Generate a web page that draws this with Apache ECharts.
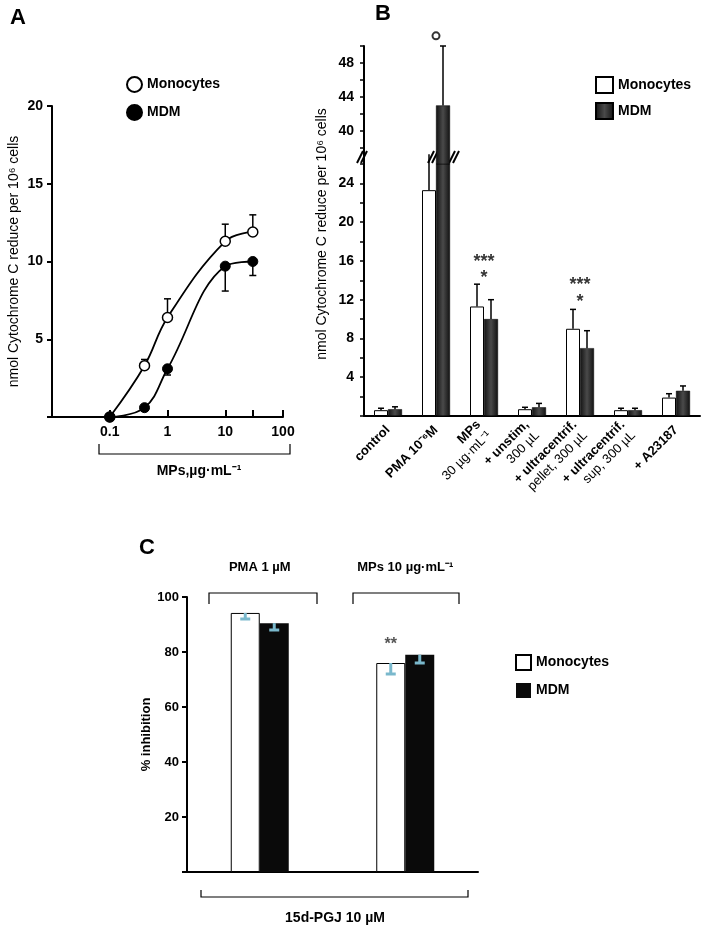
<!DOCTYPE html>
<html>
<head>
<meta charset="utf-8">
<script src="https://cdn.jsdelivr.net/npm/echarts@6/dist/echarts.min.js"></script>
<style>
  html, body { margin: 0; padding: 0; background: #fff; }
  #main { width: 709px; height: 934px; }
</style>
</head>
<body>
<div id="main"></div>
<script>
// ---- panel A: dose response ----
var doseA = [0.1, 0.4, 1, 10, 30];
var monoA = [0, 3.3, 6.4, 11.3, 11.9];
var monoAErr = [0, 3.7, 7.6, 12.4, 13.0];   // whisker end (up)
var mdmA = [0, 0.6, 3.1, 9.7, 10.0];
var mdmAErr = [0, 0.6, 2.7, 8.1, 9.1];      // whisker end (down)
var ticksA = [0.1, 1, 10, 30, 100];
var labelsA = [0.1, 1, 10, 100];

// ---- panel B: stimuli ----
var catsB = ['control', 'PMA 10⁻⁶M', 'MPs', '+ unstim,', '+ ultracentrif. pellet', '+ ultracentrif. sup', '+ A23187'];
var labelTopB = ['control', 'PMA 10⁻⁶M', 'MPs', '+ unstim,', '+ ultracentrif.', '+ ultracentrif.', '+ A23187'];
var labelSubB = ['', '', '30 µg·mL⁻¹', '300 µL', 'pellet, 300 µL', 'sup, 300 µL', ''];
var monoB = [0.6, 23.3, 11.3, 0.7, 9.0, 0.6, 1.9];
var monoBErr = [0.8, 27, 13.6, 0.9, 11.0, 0.8, 2.3];
var mdmB = [0.7, 43, 10.0, 0.9, 7.0, 0.6, 2.6];
var mdmBErr = [0.95, 50, 12.0, 1.3, 8.8, 0.8, 3.1];
var starsB = [[2, 15.9, '***'], [2, 14.2, '*'], [4, 13.5, '***'], [4, 11.8, '*']];
var ringB = [[1, 51.2]];
var lowTicksB = [4, 8, 12, 16, 20, 24];
var upTicksB = [38, 40, 42, 44, 46, 48, 50];
var upLabelsB = [40, 44, 48];

// ---- panel C: inhibition ----
var catsC = ['PMA 1 µM', 'MPs 10 µg·mL⁻¹'];
var monoC = [94.2, 76];
var monoCErr = [92, 72];
var mdmC = [90.5, 79];
var mdmCErr = [88, 76];
var starsC = ['', '**'];

var NARROW = "'Liberation Sans Narrow','Liberation Sans',Arial,sans-serif";
var SANS = "'Liberation Sans',Arial,sans-serif";

var chart = echarts.init(document.getElementById('main'));

function stripName(n) { return n.replace(/-[ABC]$/, ''); }

function errData(means, ends) {
  return means.map(function (m, i) { return [i, m, ends[i]]; });
}
function errDataX(xs, means, ends) {
  return xs.map(function (x, i) { return [x, means[i], ends[i]]; });
}

// whisker renderer; lo/hi limit which means are drawn (broken axis)
function errRender(offset, cap, color, width, lo, hi) {
  return function (params, api) {
    var x = api.value(0), m = api.value(1), e = api.value(2);
    if (m === e) return;
    if (lo != null && m < lo) return;
    if (hi != null && m > hi) return;
    var p0 = api.coord([x, m]);
    var p1 = api.coord([x, e]);
    var cx = p0[0] + offset;
    var kids = [{
      type: 'line',
      shape: { x1: cx, y1: p0[1], x2: cx, y2: p1[1] },
      style: { stroke: color, lineWidth: width }
    }];
    if (hi == null || e <= hi) {
      kids.push({
        type: 'line',
        shape: { x1: cx - cap / 2, y1: p1[1], x2: cx + cap / 2, y2: p1[1] },
        style: { stroke: color, lineWidth: width }
      });
    }
    return { type: 'group', children: kids };
  };
}

var mdmGrad = new echarts.graphic.LinearGradient(0, 0, 1, 0, [
  { offset: 0, color: '#111' },
  { offset: 0.5, color: '#4a4a4a' },
  { offset: 1, color: '#111' }
]);

var axisBlack = { lineStyle: { color: '#000', width: 2 } };
var lblStyle = { color: '#000', fontFamily: NARROW, fontWeight: 'bold', fontSize: 14 };

function brk(cx, cy) {
  return {
    type: 'group', z: 100,
    children: [
      { type: 'polygon', shape: { points: [[cx - 7, cy + 6], [cx - 1, cy - 6], [cx + 3, cy - 6], [cx - 3, cy + 6]] },
        style: { fill: '#fff' } },
      { type: 'line', shape: { x1: cx - 7, y1: cy + 6, x2: cx - 1, y2: cy - 6 }, style: { stroke: '#000', lineWidth: 2 } },
      { type: 'line', shape: { x1: cx - 3, y1: cy + 6, x2: cx + 3, y2: cy - 6 }, style: { stroke: '#000', lineWidth: 2 } }
    ]
  };
}

function bracket(x1, x2, y, dy) {
  return {
    type: 'polyline',
    shape: { points: [[x1, y + dy], [x1, y], [x2, y], [x2, y + dy]] },
    style: { stroke: '#000', lineWidth: 1.2, fill: null }
  };
}

var option = {
  animation: false,
  backgroundColor: '#fff',
  textStyle: { fontFamily: NARROW },
  grid: [
    { left: 52, top: 106, width: 231, height: 311 },
    { left: 364, top: 164, width: 336, height: 252 },
    { left: 364, top: 46, width: 336, height: 118 },
    { left: 187, top: 597, width: 291, height: 275 }
  ],
  legend: [
    {
      left: 126, top: 76, padding: 0, orient: 'vertical', itemGap: 11, itemWidth: 15, itemHeight: 15,
      selectedMode: false,
      data: [{ name: 'Monocytes-A', icon: 'circle' }, { name: 'MDM-A', icon: 'circle' }],
      formatter: stripName, textStyle: lblStyle
    },
    {
      left: 595, top: 76, padding: 0, orient: 'vertical', itemGap: 8, itemWidth: 17, itemHeight: 16,
      selectedMode: false,
      data: [{ name: 'Monocytes-B', icon: 'rect', itemStyle: { borderWidth: 2 } }, { name: 'MDM-B', icon: 'rect' }],
      formatter: stripName, textStyle: lblStyle
    },
    {
      left: 515, top: 654, padding: 0, orient: 'vertical', itemGap: 12, itemWidth: 15, itemHeight: 15,
      selectedMode: false,
      data: [{ name: 'Monocytes-C', icon: 'rect', itemStyle: { borderWidth: 2 } }, { name: 'MDM-C', icon: 'rect' }],
      formatter: stripName, textStyle: lblStyle
    }
  ],
  xAxis: [
    {
      gridIndex: 0, type: 'log', logBase: 10, min: 0.01, max: 100,
      axisLine: axisBlack,
      axisTick: { inside: true, length: 7, customValues: ticksA, lineStyle: { color: '#000', width: 2 } },
      axisLabel: Object.assign({ customValues: labelsA, margin: 8 }, lblStyle),
      splitLine: { show: false }, minorTick: { show: false }
    },
    {
      gridIndex: 1, type: 'category', data: catsB,
      axisLine: axisBlack, axisTick: { show: false },
      axisLabel: {
        interval: 0, rotate: 45, margin: 12, color: '#000',
        formatter: function (v, i) {
          var s = '{b|' + labelTopB[i] + '}';
          if (labelSubB[i]) s += '\n{n|' + labelSubB[i] + '}';
          return s;
        },
        rich: {
          b: { fontFamily: SANS, fontWeight: 'bold', fontSize: 13, color: '#000', lineHeight: 15 },
          n: { fontFamily: SANS, fontWeight: 'normal', fontSize: 13, color: '#000', lineHeight: 15 }
        }
      }
    },
    { gridIndex: 2, type: 'category', data: catsB, show: false },
    {
      gridIndex: 3, type: 'category', data: catsC,
      axisLine: axisBlack, axisTick: { show: false }, axisLabel: { show: false }
    },
    {
      gridIndex: 3, type: 'category', data: catsC, position: 'top',
      axisLine: { show: false }, axisTick: { show: false },
      axisLabel: { margin: 23, color: '#000', fontFamily: SANS, fontWeight: 'bold', fontSize: 13 }
    }
  ],
  yAxis: [
    {
      gridIndex: 0, type: 'value', min: 0, max: 20, interval: 5,
      axisLine: { show: true, onZero: false, lineStyle: { color: '#000', width: 2 } },
      axisTick: { show: true, length: 5, lineStyle: { color: '#000', width: 2 } },
      axisLabel: Object.assign({ margin: 9, formatter: function (v) { return v === 0 ? '' : v; } }, lblStyle),
      splitLine: { show: false },
      name: 'nmol Cytochrome C reduce per 10⁶ cells', nameLocation: 'middle', nameGap: 31,
      nameTextStyle: { fontFamily: SANS, fontSize: 14, color: '#000' }
    },
    {
      gridIndex: 1, type: 'value', min: 0, max: 26, interval: 2,
      axisLine: { show: true, onZero: false, lineStyle: { color: '#000', width: 2 } },
      axisTick: { show: true, length: 4, lineStyle: { color: '#000', width: 1.5 } },
      axisLabel: Object.assign({ margin: 10, customValues: lowTicksB }, lblStyle),
      splitLine: { show: false }
    },
    {
      gridIndex: 2, type: 'value', min: 36.1, max: 50,
      axisLine: { show: true, onZero: false, lineStyle: { color: '#000', width: 2 } },
      axisTick: { show: true, length: 4, customValues: upTicksB, lineStyle: { color: '#000', width: 1.5 } },
      axisLabel: Object.assign({ margin: 10, customValues: upLabelsB }, lblStyle),
      splitLine: { show: false }
    },
    {
      gridIndex: 3, type: 'value', min: 0, max: 100, interval: 20,
      axisLine: { show: true, onZero: false, lineStyle: { color: '#000', width: 2 } },
      axisTick: { show: true, length: 5, lineStyle: { color: '#000', width: 2 } },
      axisLabel: Object.assign({ margin: 8, formatter: function (v) { return v === 0 ? '' : v; } }, lblStyle, { fontSize: 13 }),
      splitLine: { show: false },
      name: '% inhibition', nameLocation: 'middle', nameGap: 33,
      nameTextStyle: { fontFamily: SANS, fontWeight: 'bold', fontSize: 13, color: '#000' }
    }
  ],
  series: [
    // A
    {
      name: 'Monocytes-A', type: 'line', xAxisIndex: 0, yAxisIndex: 0,
      data: doseA.map(function (d, i) { return [d, monoA[i]]; }),
      smooth: 0.4, clip: false, symbol: 'circle', symbolSize: 10, z: 3,
      itemStyle: { color: '#fff', borderColor: '#000', borderWidth: 1.5 },
      lineStyle: { color: '#000', width: 1.8 }
    },
    {
      name: 'MDM-A', type: 'line', xAxisIndex: 0, yAxisIndex: 0,
      data: doseA.map(function (d, i) { return [d, mdmA[i]]; }),
      smooth: 0.4, clip: false, symbol: 'circle', symbolSize: 10, z: 3,
      itemStyle: { color: '#000', borderColor: '#000', borderWidth: 1 },
      lineStyle: { color: '#000', width: 1.8 }
    },
    {
      type: 'custom', xAxisIndex: 0, yAxisIndex: 0, z: 1, silent: true,
      data: errDataX(doseA, monoA, monoAErr), encode: { x: 0, y: 1 },
      renderItem: errRender(0, 7, '#000', 1.5)
    },
    {
      type: 'custom', xAxisIndex: 0, yAxisIndex: 0, z: 1, silent: true,
      data: errDataX(doseA, mdmA, mdmAErr), encode: { x: 0, y: 1 },
      renderItem: errRender(0, 7, '#000', 1.5)
    },
    // B lower
    {
      name: 'Monocytes-B', type: 'bar', xAxisIndex: 1, yAxisIndex: 1, data: monoB,
      barWidth: 14, barGap: '0%',
      itemStyle: { color: '#fff', borderColor: '#000', borderWidth: 1 }
    },
    {
      name: 'MDM-B', type: 'bar', xAxisIndex: 1, yAxisIndex: 1, data: mdmB,
      barWidth: 14, barGap: '0%',
      itemStyle: { color: mdmGrad, borderColor: '#000', borderWidth: 0.5 }
    },
    // B upper
    {
      name: 'Monocytes-B', type: 'bar', xAxisIndex: 2, yAxisIndex: 2, data: monoB,
      barWidth: 14, barGap: '0%',
      itemStyle: { color: '#fff', borderColor: '#000', borderWidth: 1 }
    },
    {
      name: 'MDM-B', type: 'bar', xAxisIndex: 2, yAxisIndex: 2, data: mdmB,
      barWidth: 14, barGap: '0%',
      itemStyle: { color: mdmGrad, borderColor: '#000', borderWidth: 0.5 }
    },
    {
      type: 'custom', xAxisIndex: 1, yAxisIndex: 1, z: 5, silent: true,
      data: errData(monoB, monoBErr), encode: { x: 0, y: 1 },
      renderItem: errRender(-7, 6, '#000', 1.5, null, 26)
    },
    {
      type: 'custom', xAxisIndex: 1, yAxisIndex: 1, z: 5, silent: true,
      data: errData(mdmB, mdmBErr), encode: { x: 0, y: 1 },
      renderItem: errRender(7, 6, '#000', 1.5, null, 26)
    },
    {
      type: 'custom', xAxisIndex: 2, yAxisIndex: 2, z: 5, silent: true,
      data: errData(mdmB, mdmBErr), encode: { x: 0, y: 1 },
      renderItem: errRender(7, 6, '#000', 1.5, 36.1, null)
    },
    {
      type: 'scatter', xAxisIndex: 1, yAxisIndex: 1, symbolSize: 0, silent: true, clip: false,
      data: starsB,
      label: {
        show: true, position: 'inside', formatter: function (p) { return p.data[2]; },
        color: '#000', fontFamily: SANS, fontWeight: 'bold', fontSize: 18
      }
    },
    {
      type: 'scatter', xAxisIndex: 2, yAxisIndex: 2, symbol: 'circle', symbolSize: 7, clip: false, silent: true,
      data: ringB.map(function (r) { return [r[0], r[1]]; }),
      itemStyle: { color: '#fff', borderColor: '#000', borderWidth: 2 }
    },
    // C
    {
      name: 'Monocytes-C', type: 'bar', xAxisIndex: 3, yAxisIndex: 3,
      data: monoC.map(function (v, i) {
        return starsC[i] ? {
          value: v,
          label: { show: true, position: 'top', distance: 10, formatter: starsC[i],
            color: '#555', fontFamily: SANS, fontSize: 16, fontWeight: 'bold' }
        } : v;
      }),
      barWidth: 29, barGap: '0%',
      itemStyle: { color: '#fff', borderColor: '#000', borderWidth: 1 }
    },
    {
      name: 'MDM-C', type: 'bar', xAxisIndex: 3, yAxisIndex: 3, data: mdmC,
      barWidth: 29, barGap: '0%',
      itemStyle: { color: '#0a0a0a' }
    },
    {
      type: 'custom', xAxisIndex: 3, yAxisIndex: 3, z: 5, silent: true,
      data: errData(monoC, monoCErr), encode: { x: 0, y: 1 },
      renderItem: errRender(-14.5, 10, '#7ab8cc', 3)
    },
    {
      type: 'custom', xAxisIndex: 3, yAxisIndex: 3, z: 5, silent: true,
      data: errData(mdmC, mdmCErr), encode: { x: 0, y: 1 },
      renderItem: errRender(14.5, 10, '#7ab8cc', 3)
    }
  ],
  graphic: [
    { type: 'text', left: 10, top: 7, style: { text: 'A', font: 'bold 22px ' + SANS, fill: '#000' } },
    { type: 'text', left: 375, top: 3, style: { text: 'B', font: 'bold 22px ' + SANS, fill: '#000' } },
    { type: 'text', left: 139, top: 537, style: { text: 'C', font: 'bold 22px ' + SANS, fill: '#000' } },
    {
      type: 'text', x: 322, y: 234, rotation: Math.PI / 2,
      style: { text: 'nmol Cytochrome C reduce per 10⁶ cells', font: '14px ' + SANS, fill: '#000',
        textAlign: 'center', textVerticalAlign: 'middle' }
    },
    bracket(99, 290, 454, -10),
    { type: 'text', x: 199, y: 471, style: { text: 'MPs,µg·mL⁻¹', font: 'bold 14px ' + NARROW, fill: '#000',
        textAlign: 'center', textVerticalAlign: 'middle' } },
    bracket(209, 317, 593, 11),
    bracket(353, 459, 593, 11),
    bracket(201, 468, 897, -7),
    { type: 'text', x: 335, y: 918, style: { text: '15d-PGJ 10 µM', font: 'bold 14px ' + NARROW, fill: '#000',
        textAlign: 'center', textVerticalAlign: 'middle' } },
    brk(364, 157),
    brk(435, 157),
    brk(456, 157)
  ]
};

chart.setOption(option);
</script>
</body>
</html>
